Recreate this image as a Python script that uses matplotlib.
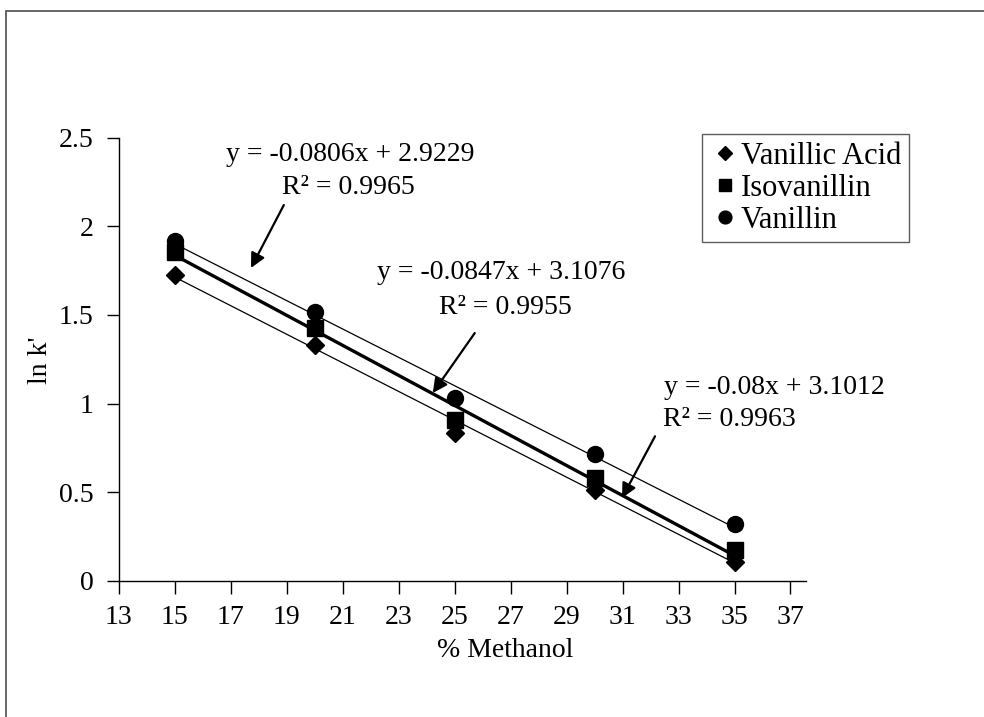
import matplotlib
matplotlib.use("Agg")
import matplotlib.pyplot as plt
from matplotlib.patches import Rectangle
import numpy as np

plt.rcParams['font.family'] = ['Liberation Serif', 'DejaVu Serif']

# Retention data: % methanol vs ln k'
methanol = [15, 20, 25, 30, 35]
vanillic_acid = [1.726, 1.331, 0.835, 0.513, 0.109]
isovanillin = [1.857, 1.427, 0.910, 0.580, 0.175]
vanillin = [1.920, 1.517, 1.032, 0.716, 0.320]

series_names = ["Vanillic Acid", "Isovanillin", "Vanillin"]

# Linear trendline fits (slope, intercept, R²)
fit_vanillic = (-0.0806, 2.9229, 0.9965)
fit_isovanillin = (-0.0847, 3.1076, 0.9955)
fit_vanillin = (-0.08, 3.1012, 0.9963)

x_ticks = [13, 15, 17, 19, 21, 23, 25, 27, 29, 31, 33, 35, 37]
y_ticks = [0, 0.5, 1, 1.5, 2, 2.5]

FS = 20

fig = plt.figure(figsize=(9.84, 7.17), dpi=100)
fig.patch.set_facecolor('white')

# chart-area border (top and left edges visible)
fig.add_artist(Rectangle((5.5 / 984, -0.1), 1.2, 1 - 11 / 717 + 0.1,
                         transform=fig.transFigure, fill=False,
                         edgecolor='#5a5a5a', linewidth=1.3))

ax = fig.add_axes([0.1206, 0.1897, 0.819 - 0.1206, 0.808 - 0.1897])
ax.set_xlim(13, 37.55)
ax.set_ylim(0, 2.5)
for s in ['top', 'right']:
    ax.spines[s].set_visible(False)
for s in ['left', 'bottom']:
    ax.spines[s].set_linewidth(1.0)
    ax.spines[s].set_color('black')

ax.set_xticks(x_ticks)
ax.set_yticks(y_ticks)
ax.set_yticklabels(['0', '0.5', '1', '1.5', '2', '2.5'])
ax.tick_params(axis='both', direction='out', length=9, width=1.0,
               labelsize=FS, colors='black')
ax.tick_params(axis='x', pad=8)
ax.tick_params(axis='y', pad=9)

# trendlines
xs = np.array([methanol[0], methanol[-1]])
ax.plot(xs, fit_vanillic[0] * xs + fit_vanillic[1], color='black', lw=0.9, zorder=2)
ax.plot(xs, fit_isovanillin[0] * xs + fit_isovanillin[1], color='black', lw=2.4, zorder=2)
ax.plot(xs, fit_vanillin[0] * xs + fit_vanillin[1], color='black', lw=0.9, zorder=2)

# data points
ax.plot(methanol, vanillic_acid, linestyle='none', marker='D', markersize=9,
        color='black', label=series_names[0], zorder=3)
ax.plot(methanol, isovanillin, linestyle='none', marker='s', markersize=11,
        color='black', label=series_names[1], zorder=3)
ax.plot(methanol, vanillin, linestyle='none', marker='o', markersize=11.5,
        color='black', label=series_names[2], zorder=3)

ax.set_xlabel('% Methanol', fontsize=FS)
ax.set_ylabel("ln k'", fontsize=FS)
ax.xaxis.set_label_coords(0.562, -0.129)
ax.yaxis.set_label_coords(-0.095, 0.4985)

leg = ax.legend(loc='upper left', bbox_to_anchor=(0.8487, 1.0083), fontsize=22,
                frameon=True, fancybox=False, edgecolor='#333333',
                handlelength=1.0, handletextpad=0.02, borderpad=0.25,
                labelspacing=0.1, markerscale=0.8, borderaxespad=0)
leg.get_frame().set_linewidth(1.0)


def eq_label(fit):
    slope, intercept, r2 = fit
    return f"y = {slope:g}x + {intercept:.4f}", f"R² = {r2:.4f}"


labels = [
    (fit_vanillic, (21.26, 2.403), (21.19, 2.217), (18.9, 2.12), (17.725, 1.765)),
    (fit_isovanillin, (26.65, 1.737), (26.80, 1.545), (25.72, 1.398), (24.22, 1.060)),
    (fit_vanillin, (36.44, 1.089), (34.83, 0.908), (32.16, 0.816), (30.98, 0.468)),
]
for fit, eq_pos, r_pos, a_start, a_tip in labels:
    eq, r = eq_label(fit)
    ax.text(*eq_pos, eq, ha='center', va='center', fontsize=FS, clip_on=False)
    ax.text(*r_pos, r, ha='center', va='center', fontsize=FS, clip_on=False)
    ax.annotate('', xy=a_tip, xytext=a_start,
                arrowprops=dict(arrowstyle='-|>', color='black', lw=1.6,
                                mutation_scale=22, shrinkA=0, shrinkB=0))

fig.savefig('out.png', dpi=100, facecolor='white')
